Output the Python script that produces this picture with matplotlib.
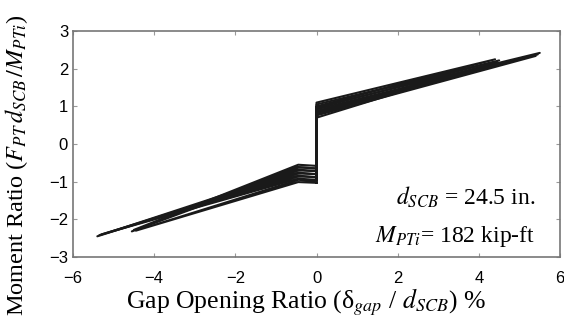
import matplotlib
matplotlib.use("Agg")
import matplotlib.pyplot as plt

plt.rcParams["font.family"] = ["Liberation Serif", "DejaVu Serif"]
plt.rcParams["mathtext.fontset"] = "stix"

# -------------------------------------------------
# data (one list entry per cycle)
# -------------------------------------------------
pos_load_y0 = [1.10, 1.05, 0.98, 0.92, 0.85, 0.78]     # y at x=0 on loading (+)
pos_peak_x = [4.40, 4.50, 5.50, 5.45, 5.40, 4.45]
pos_peak_y = [2.25, 2.22, 2.42, 2.38, 2.34, 2.18]
pos_unload_y0 = [1.00, 0.95, 0.88, 0.82, 0.76, 0.70]   # y at x=0 on unloading (+)

neg_load_y0 = [-0.58, -0.65, -0.72, -0.80, -0.88, -0.98]
neg_knee_x = [-0.45, -0.45, -0.45, -0.45, -0.45, -0.45]
neg_knee_y = [-0.55, -0.62, -0.70, -0.78, -0.86, -0.95]
neg_peak_x = [-4.50, -4.55, -5.40, -5.35, -5.30, -4.45]
neg_peak_y = [-2.28, -2.32, -2.45, -2.42, -2.40, -2.30]
neg_unload_y0 = [-0.65, -0.72, -0.80, -0.88, -0.95, -1.03]

x_ticks = [-6, -4, -2, 0, 2, 4, 6]
y_ticks = [-3, -2, -1, 0, 1, 2, 3]

fig = plt.figure(figsize=(5.64, 3.34), dpi=100)
ax = fig.add_axes([0.1294, 0.2305, 0.8636, 0.6765])

# -------------------------------------------------
# hysteresis loops
# -------------------------------------------------
for i in range(len(pos_peak_x)):
    xs = [0, 0, pos_peak_x[i], 0, 0, neg_knee_x[i], neg_peak_x[i], neg_knee_x[i], 0]
    ys = [neg_unload_y0[i], pos_load_y0[i], pos_peak_y[i], pos_unload_y0[i],
          neg_load_y0[i], neg_knee_y[i], neg_peak_y[i], neg_knee_y[i] - 0.06,
          neg_unload_y0[i]]
    ax.plot(xs, ys, color="#1a1a1a", linewidth=1.5, solid_joinstyle="round")

ax.set_xlim(-6, 6)
ax.set_ylim(-3, 3)
ax.set_xticks(x_ticks)
ax.set_yticks(y_ticks)
ax.tick_params(direction="in", length=3, top=True, right=True,
               colors="#999999", labelcolor="black")
ax.tick_params(axis="x", pad=10)
for lbl in ax.get_xticklabels() + ax.get_yticklabels():
    lbl.set_fontfamily("Liberation Sans")
    lbl.set_fontsize(12)
for sp in ax.spines.values():
    sp.set_color("#777777")
    sp.set_linewidth(1.2)

ax.set_xlabel(r"Gap Opening Ratio (δ$_{gap}$ / $d_{SCB}$) %", fontsize=18.5, labelpad=3)
ax.xaxis.set_label_coords(0.478, -0.13, transform=ax.transAxes)
ax.xaxis.label.set_va("top")
fig.text(0.03, 0.505, r"Moment Ratio ($F_{PT}\,d_{SCB}\,/M_{PTi}$)", fontsize=17.5,
         rotation=90, ha="center", va="center")

ax.text(5.38, -1.62, r"$d_{SCB}$ = 24.5 in.", fontsize=17, ha="right", va="baseline")
ax.text(5.38, -2.6, r"$M_{PTi}$= 182 kip-ft", fontsize=17, ha="right", va="baseline")

fig.savefig("out.png", dpi=100)
